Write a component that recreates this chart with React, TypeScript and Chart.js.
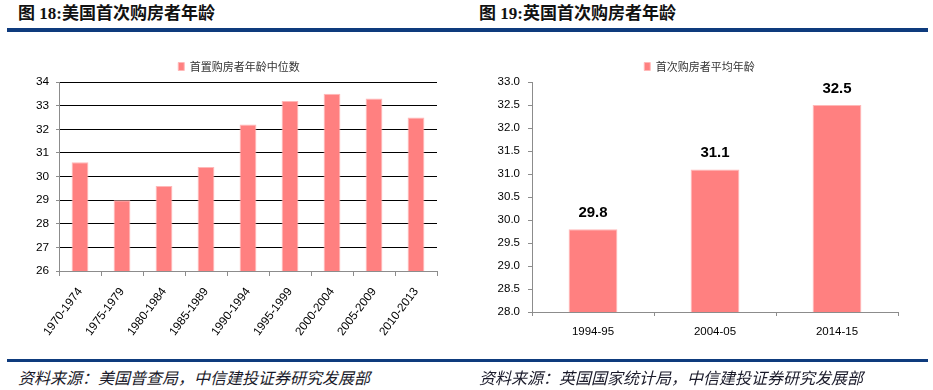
import React, { useEffect, useRef } from "react";
import { Chart, registerables } from "chart.js";

Chart.register(...registerables);

// ---- data ----
const usTitle = "图 18:美国首次购房者年龄";
const usSeriesName = "首置购房者年龄中位数";
const usCategories = [
  "1970-1974",
  "1975-1979",
  "1980-1984",
  "1985-1989",
  "1990-1994",
  "1995-1999",
  "2000-2004",
  "2005-2009",
  "2010-2013",
];
const usValues = [30.6, 29.0, 29.6, 30.4, 32.2, 33.2, 33.5, 33.3, 32.5];
const usAxisRange = [26, 34];
const usAxisStep = 1;
const usSource = "资料来源：美国普查局，中信建投证券研究发展部";

const ukTitle = "图 19:英国首次购房者年龄";
const ukSeriesName = "首次购房者平均年龄";
const ukCategories = ["1994-95", "2004-05", "2014-15"];
const ukValues = [29.8, 31.1, 32.5];
const ukAxisRange = [28, 33];
const ukAxisStep = 0.5;
const ukSource = "资料来源：英国国家统计局，中信建投证券研究发展部";

// ---- styles ----
const BAR = "#FF8080";
const BAR_EDGE = "#FFB8B8";
const AXIS = "#8C8C8C";
const RULE = "#0E3B7D";
const LATIN = '"Liberation Sans", Arial, sans-serif';
const CJK = '"Noto Sans CJK SC", sans-serif';

const valueLabels = {
  id: "valueLabels",
  afterDatasetsDraw(chart: any) {
    const ctx = chart.ctx;
    const meta = chart.getDatasetMeta(0);
    const data = chart.data.datasets[0].data as number[];
    ctx.save();
    ctx.font = 'bold 15px "Liberation Sans Narrow", "Arial Narrow", sans-serif';
    ctx.fillStyle = "#000";
    ctx.textAlign = "center";
    ctx.textBaseline = "alphabetic";
    meta.data.forEach((el: any, i: number) => {
      ctx.fillText(data[i].toFixed(1), el.x, el.y - 12);
    });
    ctx.restore();
  },
};

function legendOpts() {
  return {
    display: true,
    position: "top" as const,
    labels: {
      boxWidth: 6,
      boxHeight: 8,
      padding: 10,
      color: "#333",
      font: { size: 11, family: CJK },
    },
  };
}

function UsChart() {
  const ref = useRef<HTMLCanvasElement>(null);
  useEffect(() => {
    const chart = new Chart(ref.current!, {
      type: "bar",
      data: {
        labels: usCategories,
        datasets: [
          {
            label: usSeriesName,
            data: usValues,
            backgroundColor: BAR,
            borderColor: BAR_EDGE,
            borderWidth: 1,
            barPercentage: 0.4,
            categoryPercentage: 1,
          },
        ],
      },
      options: {
        animation: false,
        responsive: false,
        layout: { padding: 0 },
        plugins: { legend: legendOpts(), tooltip: { enabled: false } },
        scales: {
          x: {
            grid: {
              display: true,
              drawOnChartArea: false,
              drawTicks: true,
              tickLength: 5,
              color: AXIS,
              offset: true,
            },
            border: { color: AXIS },
            ticks: {
              autoSkip: false,
              maxRotation: 53,
              minRotation: 53,
              padding: 9,
              color: "#000",
              font: { size: 11.8, family: LATIN },
            },
            afterFit: (s: any) => {
              s.height = 79;
              s.paddingLeft = 0;
              s.paddingRight = 35;
            },
          },
          y: {
            min: usAxisRange[0],
            max: usAxisRange[1],
            ticks: {
              stepSize: usAxisStep,
              padding: 7,
              color: "#000",
              font: { size: 11.8, family: LATIN },
            },
            grid: { color: "#000", tickColor: AXIS, tickLength: 3 },
            border: { color: AXIS },
            afterFit: (s: any) => {
              s.width = 53;
              s.paddingTop = 42;
              s.paddingBottom = 0;
            },
          },
        },
      },
    });
    return () => chart.destroy();
  }, []);
  return (
    <canvas
      ref={ref}
      width={466}
      height={310}
      style={{ position: "absolute", left: 6, top: 40, width: 466, height: 310 }}
    />
  );
}

function UkChart() {
  const ref = useRef<HTMLCanvasElement>(null);
  useEffect(() => {
    const chart = new Chart(ref.current!, {
      type: "bar",
      data: {
        labels: ukCategories,
        datasets: [
          {
            label: ukSeriesName,
            data: ukValues,
            backgroundColor: BAR,
            borderColor: BAR_EDGE,
            borderWidth: 1,
            barPercentage: 0.4,
            categoryPercentage: 1,
          },
        ],
      },
      options: {
        animation: false,
        responsive: false,
        layout: { padding: 0 },
        plugins: { legend: legendOpts(), tooltip: { enabled: false } },
        scales: {
          x: {
            grid: {
              display: true,
              drawOnChartArea: false,
              drawTicks: true,
              tickLength: 4,
              color: AXIS,
              offset: true,
            },
            border: { color: AXIS },
            ticks: {
              autoSkip: false,
              maxRotation: 0,
              minRotation: 0,
              padding: 9,
              color: "#000",
              font: { size: 11.5, family: LATIN },
            },
            afterFit: (s: any) => {
              s.height = 38;
              s.paddingLeft = 0;
              s.paddingRight = 35;
            },
          },
          y: {
            min: ukAxisRange[0],
            max: ukAxisRange[1],
            ticks: {
              stepSize: ukAxisStep,
              padding: 8,
              color: "#000",
              font: { size: 11.5, family: LATIN },
              callback: (v: any) => Number(v).toFixed(1),
            },
            grid: {
              drawOnChartArea: false,
              color: AXIS,
              tickColor: AXIS,
              tickLength: 4,
            },
            border: { color: AXIS },
            afterFit: (s: any) => {
              s.width = 66;
              s.paddingTop = 42;
              s.paddingBottom = 0;
            },
          },
        },
      },
      plugins: [valueLabels],
    });
    return () => chart.destroy();
  }, []);
  return (
    <canvas
      ref={ref}
      width={467}
      height={310}
      style={{ position: "absolute", left: 466, top: 40, width: 467, height: 310 }}
    />
  );
}

const titleStyle: React.CSSProperties = {
  position: "absolute",
  top: 4,
  fontSize: 17,
  lineHeight: "20px",
  fontWeight: "bold",
  fontFamily: '"Liberation Serif", "Noto Sans CJK SC", serif',
  color: "#111",
  whiteSpace: "nowrap",
};

const sourceStyle: React.CSSProperties = {
  position: "absolute",
  top: 366,
  fontSize: 16,
  lineHeight: "22px",
  fontStyle: "italic",
  fontFamily: CJK,
  color: "#1a1a2a",
  whiteSpace: "nowrap",
};

export default function App() {
  return (
    <div
      style={{
        position: "absolute",
        left: 0,
        top: 0,
        width: 933,
        height: 390,
        background: "#fff",
        overflow: "hidden",
      }}
    >
      <div style={{ ...titleStyle, left: 18 }}>{usTitle}</div>
      <div style={{ ...titleStyle, left: 479 }}>{ukTitle}</div>
      <div style={{ position: "absolute", left: 7, top: 28, width: 921, height: 4, background: RULE }} />
      <UsChart />
      <UkChart />
      <div style={{ position: "absolute", left: 7, top: 359, width: 921, height: 3, background: RULE }} />
      <div style={{ ...sourceStyle, left: 18 }}>{usSource}</div>
      <div style={{ ...sourceStyle, left: 479 }}>{ukSource}</div>
    </div>
  );
}
